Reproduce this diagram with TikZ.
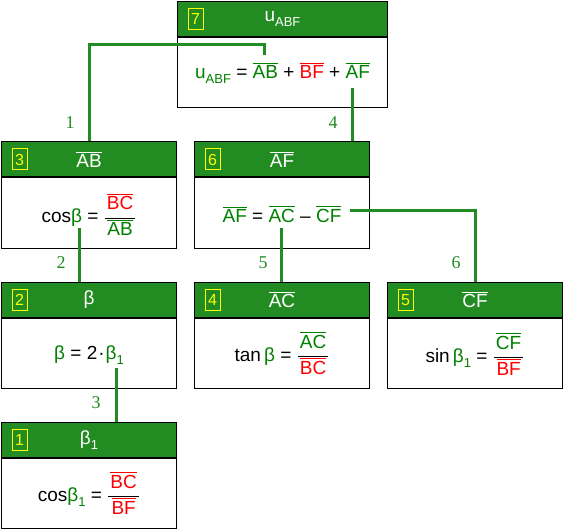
\documentclass[tikz,border=0pt]{standalone}
\usepackage{fontspec}
\setmainfont{Liberation Sans}
\newfontfamily\lblfont{Liberation Serif}
\usetikzlibrary{calc}
\definecolor{hdrgreen}{RGB}{34,139,34}
\definecolor{eqgreen}{RGB}{0,128,0}
\definecolor{eqred}{RGB}{255,0,0}
\definecolor{numyellow}{RGB}{255,255,0}
\newcommand\ol[1]{\vbox{\hrule height 0.9pt\kern 2pt\hbox{#1}}}
\newcommand\G[1]{\textcolor{eqgreen}{#1}}
\newcommand\R[1]{\textcolor{eqred}{#1}}
\newcommand\sub[1]{\raisebox{-5pt}{\fontsize{13}{13}\selectfont #1}}
\newcommand\fr[2]{$\displaystyle\frac{\hbox{\kern2pt#1\kern2pt\vrule width 0pt depth 7pt}}{\hbox{\kern2pt#2\kern2pt}}$}
\tikzset{
  hdr/.style={draw=black, fill=hdrgreen, line width=1pt, minimum height=35pt, inner sep=0pt, text=white, font=\fontsize{19}{22}\selectfont},
  bodybox/.style={draw=black, fill=white, line width=1pt, minimum height=70pt, inner sep=0pt},
  numbox/.style={draw=numyellow, line width=1pt, minimum width=15pt, minimum height=21pt, inner sep=0pt, text=numyellow, font=\fontsize{16}{18}\selectfont},
  eq/.style={inner sep=0pt, text=black, font=\fontsize{19}{22}\selectfont},
  conn/.style={draw=hdrgreen, line width=3pt},
  lbl/.style={inner sep=0pt, text=hdrgreen, font=\lblfont\fontsize{18}{20}\selectfont}
}
\newcommand\mkbox[8]{%
  \node[hdr, minimum width=#4pt, anchor=north west] (#1h) at (#2,#3) {#6};
  \node[bodybox, minimum width=#4pt, anchor=north] (#1) at (#1h.south) {};
  \node[numbox] (#1n) at ($(#1h.west)+(18.5,0)$) {#5};
  \node[eq, anchor=base] (#1e) at ($(#1.north)+(0,#7)$) {#8};
}
\begin{document}
\begin{tikzpicture}[x=1pt, y=-1pt]
\useasboundingbox (0,0) rectangle (564,529);
\mkbox{b7}{177}{1}{210}{7}{u\sub{ABF}}{42}{\G{u\sub{ABF}} = \G{\ol{AB}} + \R{\ol{BF}} + \G{\ol{AF}}}
\mkbox{b3}{1}{141.5}{175}{3}{\ol{AB}}{45}{cos\G{β} = \fr{\R{\ol{BC}}}{\G{\ol{AB}}}}
\mkbox{b6}{194}{141.5}{175}{6}{\ol{AF}}{45}{\G{\ol{AF}} = \G{\ol{AC}} – \G{\ol{CF}}}
\mkbox{b2}{1}{282}{175}{2}{β}{41}{\G{β} = 2\kern1pt·\kern1pt\G{β\sub{1}}}
\mkbox{b4}{194}{282}{175}{4}{\ol{AC}}{43}{tan\,\G{β} = \fr{\G{\ol{AC}}}{\R{\ol{BC}}}}
\mkbox{b5}{387}{282}{175}{5}{\ol{CF}}{44}{sin\,\G{β\sub{1}} = \fr{\G{\ol{CF}}}{\R{\ol{BF}}}}
\mkbox{b1}{1}{422}{175}{1}{β\sub{1}}{43}{cos\G{β\sub{1}} = \fr{\R{\ol{BC}}}{\R{\ol{BF}}}}
% connectors
\coordinate (c1s) at ($(b3h.north west)+(88,0)$);
\coordinate (c1m) at (264,45);
\coordinate (c1e) at (264,55);
\draw[conn] (c1s) |- (c1m) -- (c1e);
\coordinate (c4s) at (352,88);
\draw[conn] (c4s) -- (c4s |- b6h.north);
\coordinate (c2s) at (79,228);
\draw[conn] (c2s) -- (c2s |- b2h.north);
\coordinate (c3s) at (116,368);
\draw[conn] (c3s) -- (c3s |- b1h.north);
\coordinate (c5s) at (281,228);
\draw[conn] (c5s) -- (c5s |- b4h.north);
\coordinate (c6s) at (350,211);
\draw[conn] (c6s) -| (b5h.north);
% labels
\node[lbl] (l1) at (70,123) {1};
\node[lbl] (l4) at (333,123) {4};
\node[lbl] (l2) at (61,263) {2};
\node[lbl] (l5) at (263,263) {5};
\node[lbl] (l6) at (456,263) {6};
\node[lbl] (l3) at (96,403) {3};
\end{tikzpicture}
\end{document}
